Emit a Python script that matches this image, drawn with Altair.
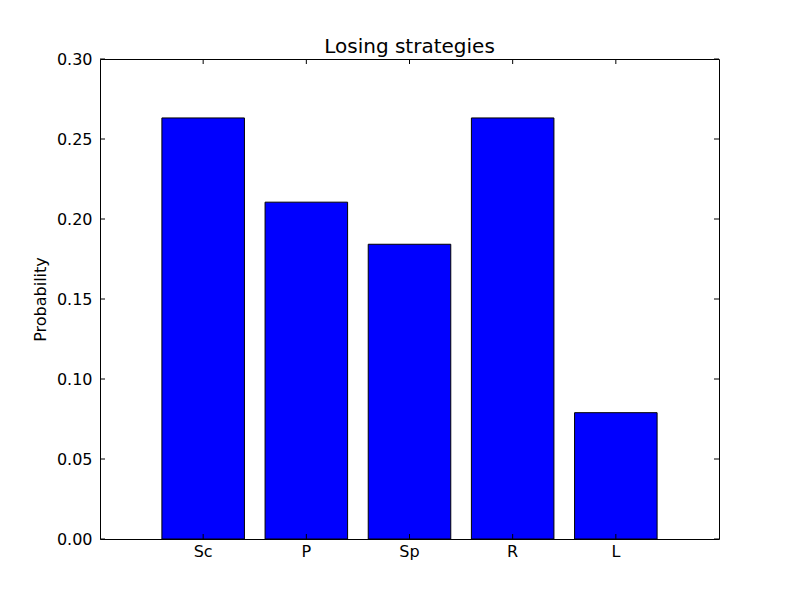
import altair as alt
import pandas as pd

categories = ["Sc", "P", "Sp", "R", "L"]
probabilities = [10/38, 8/38, 7/38, 10/38, 3/38]
y_ticks = [0.0, 0.05, 0.10, 0.15, 0.20, 0.25, 0.30]

df = pd.DataFrame({"strategy": categories, "prob": probabilities})
ticks_df = pd.DataFrame({"t": y_ticks})

FONT = "DejaVu Sans"

xscale = alt.Scale(domain=categories, paddingInner=0.2, paddingOuter=0.6)
yscale = alt.Scale(domain=[0, 0.30], nice=False, zero=True)

bars = alt.Chart(df).mark_bar(color="#0000ff", stroke="black", strokeWidth=1).encode(
    x=alt.X("strategy:N", scale=xscale, sort=categories,
            axis=alt.Axis(title=None, labelAngle=0, ticks=False, domain=False,
                          labelPadding=4, labelFontSize=16, labelFont=FONT,
                          labelColor="black")),
    y=alt.Y("prob:Q", scale=yscale,
            axis=alt.Axis(title="Probability", values=y_ticks, format=".2f",
                          ticks=False, domain=False, grid=False,
                          labelPadding=8, labelFontSize=16, labelFont=FONT,
                          labelColor="black", titleFont=FONT, titleFontSize=16,
                          titleFontWeight="normal", titleColor="black",
                          titlePadding=8)),
)

yt_left = alt.Chart(ticks_df).mark_rule(color="black", strokeWidth=1).encode(
    y=alt.Y("t:Q", scale=yscale), x=alt.value(0), x2=alt.value(5))
yt_right = alt.Chart(ticks_df).mark_rule(color="black", strokeWidth=1).encode(
    y=alt.Y("t:Q", scale=yscale), x=alt.value(614), x2=alt.value(619))
xt_bottom = alt.Chart(df).mark_rule(color="black", strokeWidth=1).encode(
    x=alt.X("strategy:N", scale=xscale, sort=categories), y=alt.value(475), y2=alt.value(480))
xt_top = alt.Chart(df).mark_rule(color="black", strokeWidth=1).encode(
    x=alt.X("strategy:N", scale=xscale, sort=categories), y=alt.value(0), y2=alt.value(5))

chart = alt.layer(bars, yt_left, yt_right, xt_bottom, xt_top).properties(
    width=619, height=480,
    title=alt.TitleParams("Losing strategies", font=FONT, fontSize=20,
                          fontWeight="normal", color="black", offset=-6),
    autosize=alt.AutoSizeParams(type="none"),
    padding={"left": 92, "top": 51, "right": 65, "bottom": 45},
).configure(background="white").configure_view(stroke="black", strokeWidth=1)

chart.save("out.html", embed_options={"renderer": "svg", "actions": False})
